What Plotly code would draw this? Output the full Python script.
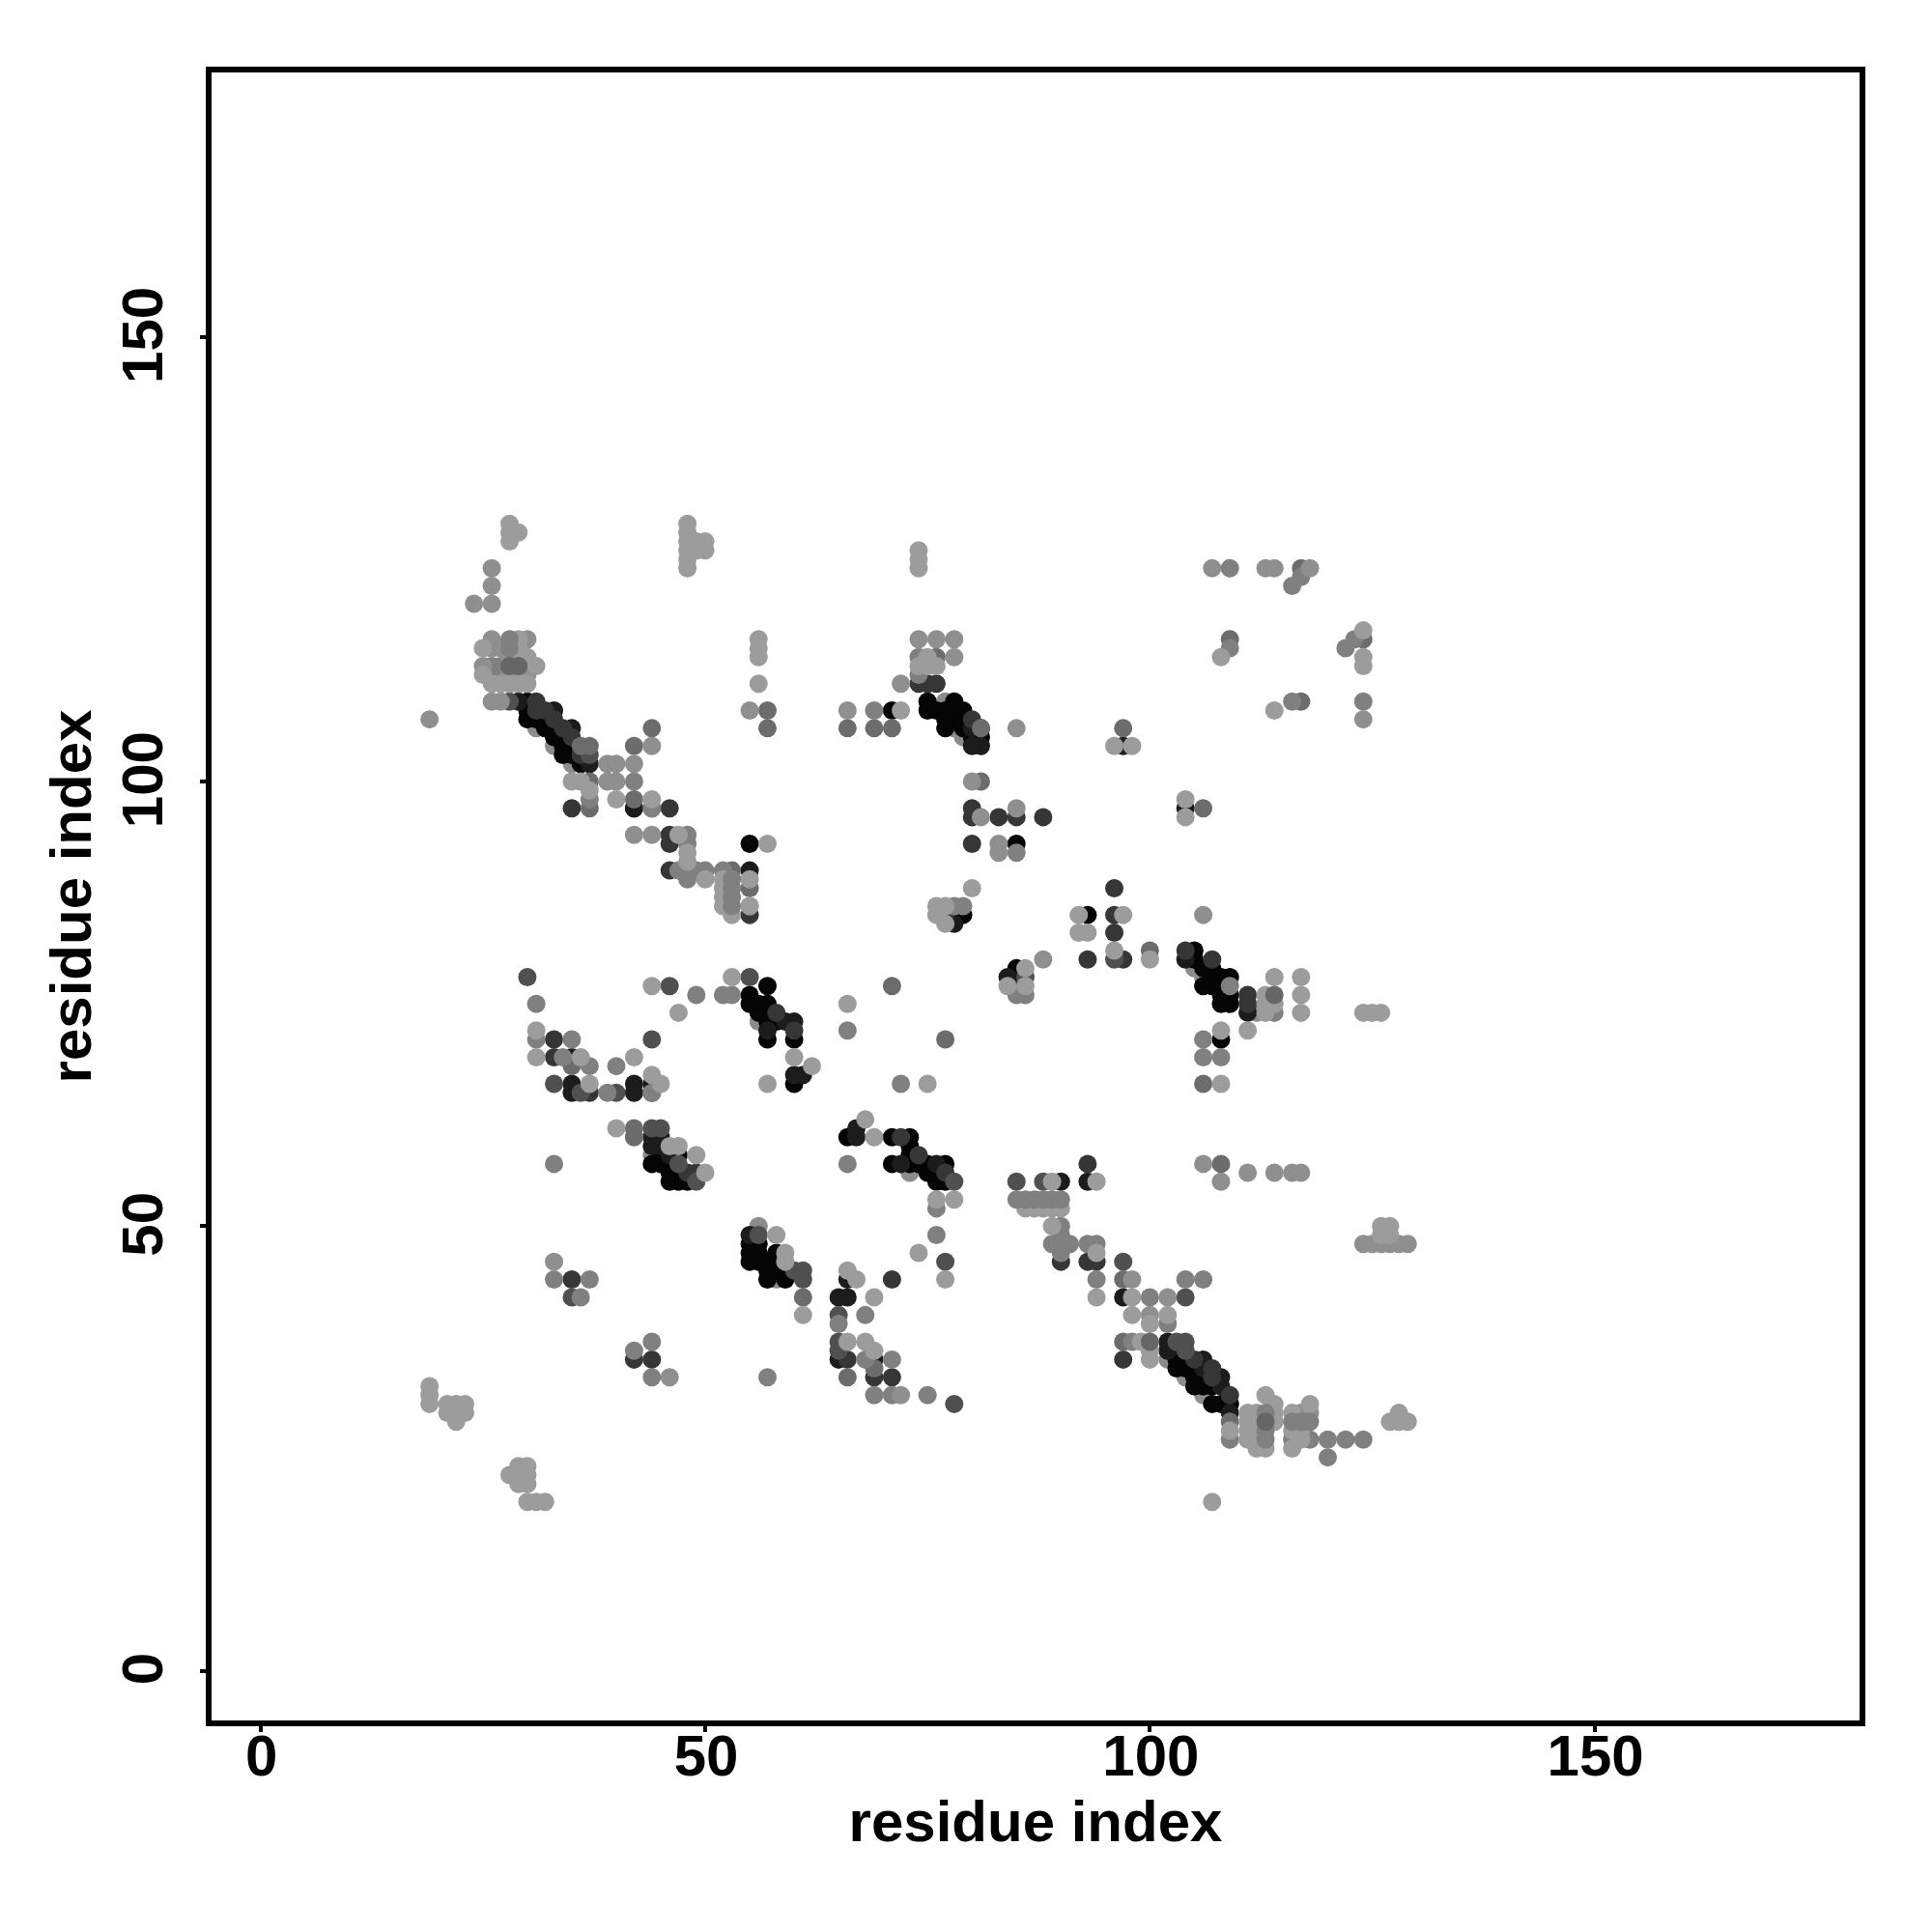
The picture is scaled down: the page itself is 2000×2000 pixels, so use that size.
import plotly.graph_objects as go

tick_values = [0, 50, 100, 150]
axis_label = "residue index"

# contacts (residue i, residue j), grouped by grey level and listed in drawing order
under_points = [(31,106),(33,104),(35,102),(56,73),(78,106),(79,105),(77,109),(105,79),(106,78),(104,33),
                (106,31),(102,35),(73,56),(58,44),(44,58),(112,74),(56,50)]
black = [(30,109),(30,108),(30,107),(31,107),(32,107),(32,106),(33,106),(33,105),(34,105),(34,104),(35,104),
         (34,103),(35,103),(36,102),(48,90),(55,93),(42,97),
         (71,108),(75,109),(76,108),(75,108),(78,109),(77,108),(78,108),(79,108),(78,107),(77,107),(77,106),(79,106),(80,105),(81,105),(80,106),
         (85,93),(57,77),(55,76),(55,75),(56,75),(57,75),(56,74),(57,74),(57,73),(58,73),(57,71),(60,71),(60,66),
         (47,58),(45,57),(46,57),(46,56),(47,56),(46,55),(47,55),(48,55),(44,57),(45,58),
         (66,60),(71,60),(73,60),(73,59),(73,58),(71,57),(73,57),(75,57),(77,57),(74,57),(75,56),(76,55),(77,55),(76,56),
         (90,48),(78,85),(79,85),(85,79),(85,78),(93,85),(105,81),(105,80),(109,78),(106,77),(107,77),(107,78),(108,78),(108,77),
         (108,76),(109,76),(108,75),(109,75),(108,71),(106,79),(107,79),
         (55,48),(55,47),(55,46),(56,48),(56,47),(56,46),(57,46),(58,47),(58,46),(57,45),(58,45),(59,45),(57,44),(59,44),
         (103,35),(103,34),(104,35),(104,34),(105,34),(105,33),(106,33),(105,32),(106,32),(107,32),(107,30),(108,30),(109,30)]
very_dark = [(29,109),(33,108),(35,106),(37,102),(42,97),(35,69),(44,66),(35,66),(35,65),(42,66),(42,65),(44,60),(44,59),(45,59),
             (46,58),(45,60),(55,90),(80,104),(81,104),(80,106),(81,106),(84,78),(78,84),(55,49),(65,42),(66,42),(65,35),(66,44),
             (69,35),(97,42),(102,37),(102,36),(108,33),(106,35),(109,29),(111,74),(104,80),(60,73),(59,73),(57,72),(60,67),(61,67),
             (72,57),(76,57),(67,60),(67,61),(90,55),(93,55),(104,97),(97,104),(85,77),(44,65),(106,34),(108,32)]
dark = [(31,109),(31,108),(32,108),(33,107),(34,106),(35,105),(36,103),(35,97),(46,97),(46,94),(46,93),(46,90),(33,71),(33,69),
        (55,85),(74,111),(75,111),(76,111),(80,107),(80,97),(80,96),(83,96),(85,96),(88,96),(80,93),(48,56),(49,56),(37,65),(60,72),
        (58,74),(72,60),(74,58),(77,56),(96,88),(96,85),(96,83),(97,80),(93,80),(77,85),(35,44),(42,35),(44,35),(71,33),(69,33),(66,35),
        (90,46),(93,46),(94,46),(97,35),(104,81),(107,80),(105,35),(107,34),(107,33),(109,31),(111,76),(111,75),(93,57),(71,44)]
dark_mid = [(28,109),(37,103),(33,66),(46,77),(30,78),(44,71),(36,65),(40,65),(49,55),(55,78),(44,61),
            (35,42),(56,49),(60,45),(61,45),(61,44),(65,40),(65,37),(65,36),(78,30),(77,46),(78,55),
            (96,80),(86,78),(85,55),(88,55),(97,46),(104,42),(104,37),(44,97),(45,61),(103,37),(104,36),(47,57)]
mid_dark = [(37,104),(36,104),(37,100),(42,98),(44,106),(42,104),(57,108),(35,68),(37,97),(57,106),
            (53,90),(55,88),(42,61),(42,60),(66,106),(69,106),(71,106),(76,114),(81,100),(81,106),(117,124),(109,116),
            (124,116),(117,109),(97,106),(106,97),(71,77),(77,71),(61,42),(66,33),(69,34),(97,44),(97,37),(100,81),(106,66),(108,57),(109,28)]
mid = [(26,113),(27,113),(26,112),(27,112),(37,98),(42,100),(44,97),(48,94),(48,93),
       (55,86),(48,89),(47,90),(49,90),(50,90),(52,90),(31,75),(31,71),(35,71),(34,69),(37,68),(40,68),(39,65),(44,65),(49,76),(52,76),(53,76),
       (74,114),(74,112),(66,72),(66,57),(69,108),(72,66),(85,92),(79,86),(78,86),(85,76),(86,76),(33,57),(57,33),(44,37),(42,36),
       (33,44),(37,44),(36,42),(44,33),(65,39),(68,40),(68,35),(71,35),(69,31),(71,31),(75,31),(76,52),(76,49),
       (90,50),(90,49),(89,48),(91,48),(90,47),(93,48),(94,48),(94,44),(100,42),(98,37),(102,39),(104,44),(106,44),(109,26),
       (118,26),(116,26),(114,74),(106,71),(106,69),(108,69),(109,77),(120,26),(122,26),(124,26),(120,24),(116,122),(117,123),(123,116),(122,115),(116,109),(124,109),(109,124),(109,115)]
light_mid = [(19,107),(26,120),(26,122),(26,124),(24,120),(26,116),(26,115),(27,115),(30,116),(28,114),(30,113),(25,113),(28,112),(29,112),(30,112),
             (26,109),(27,109),(39,102),(40,102),(42,102),(39,100),(40,100),(42,94),(44,94),(44,104),(55,108),(66,108),(72,111),(85,106),(76,116),(74,116),(78,116),(78,114),
             (83,93),(83,92),(85,97),(80,100),(81,96),(88,80),(106,85),(107,124),(113,124),(114,124),(118,124),(124,107),(116,56),(117,56),(114,56),(111,56),
             (106,57),(108,55),(33,46),(100,40),(102,42),(98,44),(72,31),(46,33),(118,29),(117,29),(124,48),(125,48),(126,48),(127,48),(128,48),(129,48)]
light = [(28,129),(28,128),(28,127),(29,128),(48,129),(48,128),(48,127),(48,126),(48,125),(48,124),(49,127),(49,126),(50,127),(50,126),
         (25,115),(29,116),(29,115),(29,114),(30,114),(31,113),(25,112),(26,111),(27,111),(28,111),(29,111),(30,111),
         (35,100),(36,100),(37,99),(40,98),(44,98),(47,94),(48,91),(48,92),(50,89),(52,89),(52,88),(52,87),(52,86),(53,85),(55,89),(55,86),(57,93),
         (56,116),(56,115),(56,114),(56,111),(31,72),(31,69),(36,69),(42,69),(44,67),(45,66),(37,66),(40,61),(44,77),(47,74),(53,78),
         (46,59),(47,59),(49,58),(50,56),(57,66),(60,69),(62,68),(66,75),(68,62),(69,60),(75,66),(76,86),(77,86),(76,85),(77,84),(80,88),
         (74,126),(74,125),(74,124),(75,114),(74,113),(75,113),(76,113),(72,108),(92,83),(93,83),(92,85),(97,85),(96,81),(100,80),(94,55),(89,55),(86,79),(86,77),(84,77),
         (96,104),(98,104),(104,98),(104,96),(108,114),(124,117),(124,114),(124,113),(114,108),(61,40),(58,49),(59,47),(59,46),
         (66,45),(67,44),(66,37),(68,37),(69,36),(69,42),(74,47),(76,53),(78,53),(77,44),(94,47),(94,42),(86,52),(87,52),(88,52),(89,52),(90,52),(89,50),(98,40),(99,37),(100,36),(100,35),
         (102,40),(100,39),(98,42),(113,31),(114,30),(111,29),(112,29),(114,29),(111,28),(112,28),(114,28),(111,27),(112,27),(111,26),(112,26),(112,25),(113,25),(109,27),
         (118,30),(116,29),(116,27),(117,27),(116,25),(117,26),(107,19),(127,28),(128,28),(129,28),(128,29),(126,50),(127,50),(126,49),(127,49),
         (124,74),(125,74),(126,74),(117,78),(117,76),(117,74),(114,78),(113,76),(113,75),(114,75),(113,74),(111,72),(108,72),(108,66),
         (19,32),(19,31),(19,30),(21,30),(22,30),(23,30),(21,29),(22,29),(23,29),(22,28),(28,22),(29,23),(30,23),(29,22),(30,22),(29,21),(30,21),(30,19),(31,19),(32,19)]
top_mid = [(28,116),(28,115),(53,89),(53,88),(53,87),(53,86),(85,53),(86,53),(87,53),(88,53),(89,53),(90,53),
           (113,29),(113,27),(113,26),(116,28),(117,28),(118,28)]
top_mid_dark = [(28,113),(29,113),(100,37),(114,76),(113,28)]

layers = [(under_points, "#8c8c8c"), (black, "#050505"), (very_dark, "#1c1c1c"), (dark, "#363636"),
          (dark_mid, "#505050"), (mid_dark, "#6c6c6c"), (mid, "#808080"), (light_mid, "#8f8f8f"), (light, "#9c9c9c"),
          (top_mid, "#808080"), (top_mid_dark, "#666666")]

fig = go.Figure()
for pts, colour in layers:
    fig.add_trace(go.Scatter(x=[p[0] for p in pts], y=[p[1] for p in pts], mode="markers",
                             marker=dict(size=19, color=colour, line=dict(width=0)), showlegend=False))

bold = dict(family="Liberation Sans", size=60, color="black", weight="bold")
axis_style = dict(tickmode="array", tickvals=tick_values, ticks="outside", ticklen=6, tickwidth=3.5, tickcolor="black",
                  showgrid=False, zeroline=False, showline=True, linecolor="black", linewidth=6, mirror=True,
                  tickfont=bold, automargin=False)
fig.update_layout(width=2000, height=2000, margin=dict(l=211, r=83, t=67, b=227), plot_bgcolor="white", paper_bgcolor="white",
                  font=dict(family="Liberation Sans", color="black"))
fig.update_xaxes(range=[-5.51, 179.8], ticklabelstandoff=-27, ticklabelshift=1, title=dict(text=axis_label, font=bold, standoff=16), **axis_style)
fig.update_yaxes(range=[-5.59, 179.75], ticklabelstandoff=15, ticklabelshift=7, tickangle=-90, title=dict(text=axis_label, font=bold, standoff=2), **axis_style)
fig.write_html("out.html")
